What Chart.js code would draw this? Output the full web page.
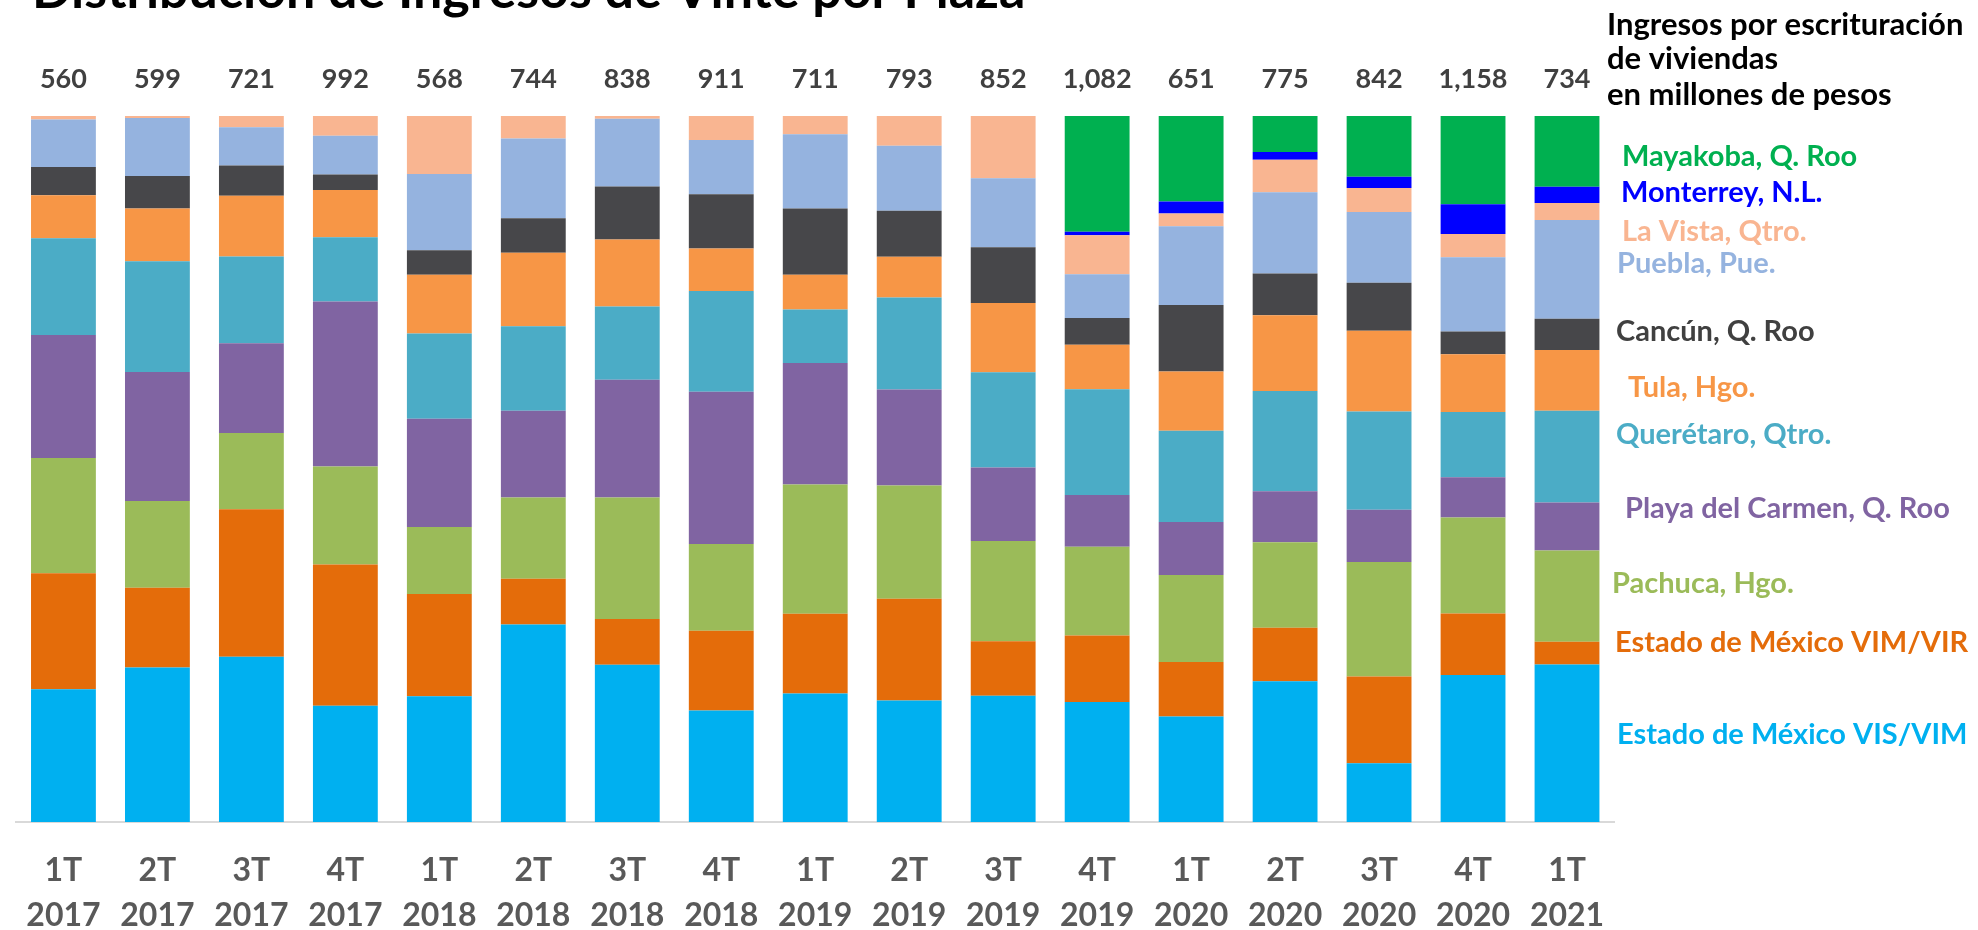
<!DOCTYPE html>
<html>
<head>
<meta charset="UTF-8">
<title>Distribución de Ingresos de Vinte por Plaza</title>
<script src="https://cdn.jsdelivr.net/npm/chart.js"></script>
<style>
    html, body { margin: 0; padding: 0; background: #ffffff; overflow: hidden; }
    #wrap { width: 1978px; height: 930px; position: relative; }
</style>
</head>
<body>
<div id="wrap"><canvas id="chart"></canvas></div>
<script>
    // periods (two-line tick labels)
    var quarters = [
        ['1T', '2017'], ['2T', '2017'], ['3T', '2017'], ['4T', '2017'],
        ['1T', '2018'], ['2T', '2018'], ['3T', '2018'], ['4T', '2018'],
        ['1T', '2019'], ['2T', '2019'], ['3T', '2019'], ['4T', '2019'],
        ['1T', '2020'], ['2T', '2020'], ['3T', '2020'], ['4T', '2020'],
        ['1T', '2021']
    ];

    // total revenue per quarter, millions of pesos
    var totals = [560, 599, 721, 992, 568, 744, 838, 911, 711, 793, 852, 1082, 651, 775, 842, 1158, 734];

    // share of each plaza in the quarter (%)
    var edomexVisVim = [18.8, 21.9, 23.4, 16.5, 17.8, 28.0, 22.3, 15.8, 18.2, 17.2, 17.9, 17.0, 14.9, 19.9, 8.3, 20.8, 22.3];
    var edomexVimVir = [16.4, 11.3, 20.9, 20.0, 14.5, 6.5, 6.5, 11.3, 11.3, 14.4, 7.7, 9.4, 7.7, 7.6, 12.3, 8.7, 3.2];
    var pachuca = [16.3, 12.3, 10.8, 13.9, 9.5, 11.5, 17.2, 12.3, 18.3, 16.0, 14.2, 12.6, 12.3, 12.1, 16.2, 13.6, 12.9];
    var playaCarmen = [17.4, 18.3, 12.7, 23.4, 15.3, 12.3, 16.7, 21.6, 17.2, 13.6, 10.4, 7.3, 7.5, 7.2, 7.4, 5.7, 6.8];
    var queretaro = [13.7, 15.7, 12.3, 9.1, 12.1, 12.0, 10.4, 14.3, 7.6, 13.0, 13.5, 15.0, 12.9, 14.2, 13.9, 9.2, 13.0];
    var tula = [6.1, 7.5, 8.6, 6.7, 8.3, 10.4, 9.5, 6.0, 4.9, 5.8, 9.8, 6.3, 8.4, 10.7, 11.4, 8.2, 8.6];
    var cancun = [4.0, 4.6, 4.3, 2.2, 3.5, 4.9, 7.5, 7.7, 9.4, 6.5, 7.9, 3.8, 9.4, 5.9, 6.8, 3.2, 4.4];
    var puebla = [6.7, 8.2, 5.4, 5.5, 10.8, 11.3, 9.6, 7.7, 10.5, 9.2, 9.8, 6.2, 11.1, 11.5, 10.0, 10.5, 14.0];
    var laVista = [0.5, 0.3, 1.6, 2.8, 8.2, 3.2, 0.4, 3.4, 2.6, 4.2, 8.8, 5.5, 1.8, 4.6, 3.4, 3.3, 2.4];
    var monterrey = [0, 0, 0, 0, 0, 0, 0, 0, 0, 0, 0, 0.5, 1.7, 1.1, 1.6, 4.2, 2.3];
    var mayakoba = [0, 0, 0, 0, 0, 0, 0, 0, 0, 0, 0, 16.4, 12.1, 5.1, 8.6, 12.5, 10.0];

    var titleText = 'Distribución de Ingresos de Vinte por Plaza';
    var headerLines = ['Ingresos por escrituración', 'de viviendas', 'en millones de pesos'];

    // series, bottom of the stack first
    var series = [
        { name: 'Estado de México VIS/VIM', data: edomexVisVim, color: '#00B0F0', text: '#00B0F0', x: 1617, y: 735 },
        { name: 'Estado de México VIM/VIR', data: edomexVimVir, color: '#E46C0A', text: '#E46C0A', x: 1615, y: 643 },
        { name: 'Pachuca, Hgo.', data: pachuca, color: '#9BBB59', text: '#9BBB59', x: 1612, y: 584 },
        { name: 'Playa del Carmen, Q. Roo', data: playaCarmen, color: '#8064A2', text: '#8064A2', x: 1625, y: 509 },
        { name: 'Querétaro, Qtro.', data: queretaro, color: '#4BACC6', text: '#4BACC6', x: 1616, y: 435 },
        { name: 'Tula, Hgo.', data: tula, color: '#F79646', text: '#F79646', x: 1628, y: 388 },
        { name: 'Cancún, Q. Roo', data: cancun, color: '#47474A', text: '#404040', x: 1616, y: 332 },
        { name: 'Puebla, Pue.', data: puebla, color: '#95B3DF', text: '#95B3DF', x: 1617, y: 264 },
        { name: 'La Vista, Qtro.', data: laVista, color: '#F9B591', text: '#F9B591', x: 1622, y: 232 },
        { name: 'Monterrey, N.L.', data: monterrey, color: '#0000FF', text: '#0000FF', x: 1621, y: 193 },
        { name: 'Mayakoba, Q. Roo', data: mayakoba, color: '#00B050', text: '#00B050', x: 1622, y: 157 }
    ];

    // 100% stacked: scale each column so it sums to 100
    var colSums = quarters.map(function (q, i) {
        return series.reduce(function (s, d) { return s + d.data[i]; }, 0);
    });

    var datasets = series.map(function (s) {
        return {
            label: s.name,
            data: s.data.map(function (v, i) { return v / colSums[i] * 100; }),
            backgroundColor: s.color,
            borderWidth: 0,
            categoryPercentage: 1,
            barPercentage: 0.69
        };
    });

    var textPlugin = {
        id: 'textPlugin',
        afterDraw: function (chart) {
            var ctx = chart.ctx;
            var xs = chart.scales.x;
            ctx.save();

            // title, cut by the top edge as in the slide
            ctx.font = 'bold 52px Lato';
            ctx.fillStyle = '#000000';
            ctx.textAlign = 'left';
            ctx.textBaseline = 'alphabetic';
            ctx.fillText(titleText, 32, 8);

            // totals above the bars
            ctx.font = 'bold 27px Lato';
            ctx.fillStyle = '#404040';
            ctx.textAlign = 'center';
            ctx.textBaseline = 'middle';
            totals.forEach(function (t, i) {
                ctx.fillText(t.toLocaleString('en-US'), xs.getPixelForValue(i), 79);
            });

            // header of the legend
            ctx.font = 'bold 31px Lato';
            ctx.fillStyle = '#000000';
            ctx.textAlign = 'left';
            var hy = [25, 59, 95];
            headerLines.forEach(function (l, i) {
                ctx.fillText(l, 1607, hy[i]);
            });

            // series names
            ctx.font = 'bold 29px Lato';
            series.forEach(function (s) {
                ctx.fillStyle = s.text;
                ctx.fillText(s.name, s.x, s.y);
            });
            ctx.restore();
        }
    };

    var ctx = document.getElementById('chart').getContext('2d');
    var chart = new Chart(ctx, {
        type: 'bar',
        data: {
            labels: quarters,
            datasets: datasets
        },
        options: {
            responsive: true,
            maintainAspectRatio: false,
            animation: false,
            layout: {
                padding: { left: 11, right: 364, top: 116, bottom: 0 }
            },
            plugins: {
                legend: { display: false },
                tooltip: { enabled: false },
                title: { display: false }
            },
            scales: {
                x: {
                    stacked: true,
                    grid: { display: false, drawTicks: false },
                    border: { display: true, color: '#D9D9D9', width: 2 },
                    ticks: {
                        color: '#595959',
                        font: { family: 'Lato', weight: 'bold', size: 32, lineHeight: 1.41 },
                        padding: 26,
                        maxRotation: 0,
                        autoSkip: false
                    },
                    afterFit: function (scale) {
                        scale.height = 108;
                    }
                },
                y: {
                    stacked: true,
                    display: false,
                    min: 0,
                    max: 100
                }
            }
        },
        plugins: [textPlugin]
    });
</script>
</body>
</html>
